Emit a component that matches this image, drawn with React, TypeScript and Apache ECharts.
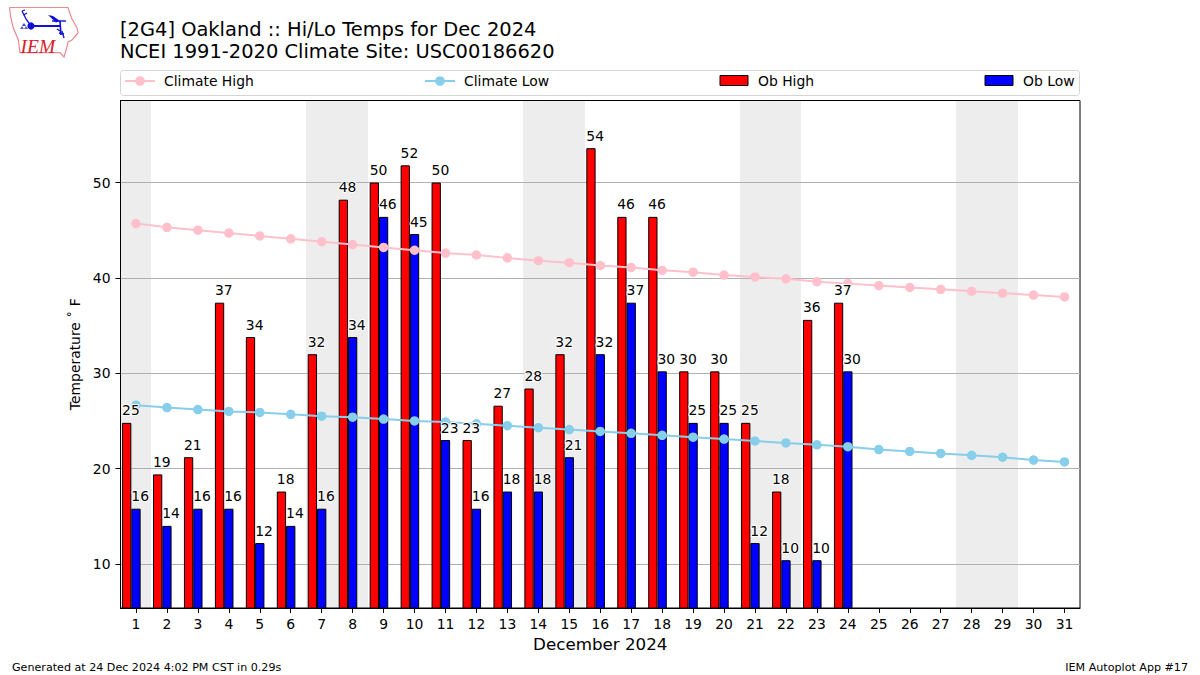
import React, { useEffect, useRef } from "react";
import * as echarts from "echarts";

const FONT = "'DejaVu Sans', sans-serif";

const days = ["1","2","3","4","5","6","7","8","9","10","11","12","13","14","15","16","17","18","19","20","21","22","23","24","25","26","27","28","29","30","31"];
const weekendDays = ["1","7","8","14","15","21","22","28","29"];
const climateHigh = [45.7,45.3,45.0,44.7,44.4,44.1,43.8,43.5,43.2,42.9,42.6,42.4,42.1,41.8,41.6,41.3,41.1,40.8,40.6,40.3,40.1,39.9,39.6,39.4,39.2,39.0,38.8,38.6,38.4,38.2,38.0];
const climateLow = [26.65,26.4,26.2,26.0,25.9,25.7,25.5,25.4,25.2,25.0,24.9,24.7,24.5,24.3,24.1,23.9,23.7,23.5,23.3,23.1,22.9,22.7,22.5,22.3,22.0,21.8,21.6,21.4,21.2,20.9,20.7];
const obHigh = [24.8,19.4,21.2,37.4,33.8,17.6,32,48.2,50,51.8,50,23,26.6,28.4,32,53.6,46.4,46.4,30.2,30.2,24.8,17.6,35.6,37.4];
const obLow = [15.8,14,15.8,15.8,12.2,14,15.8,33.8,46.4,44.6,23,15.8,17.6,17.6,21.2,32,37.4,30.2,24.8,24.8,12.2,10.4,10.4,30.2];
const yTicks = [10,20,30,40,50];
const yMin = 5.39;
const yMax = 58.6;

const titleText = "[2G4] Oakland :: Hi/Lo Temps for Dec 2024\nNCEI 1991-2020 Climate Site: USC00186620";
const xName = "December 2024";
const yName = "Temperature ˚ F";
const footerLeft = "Generated at 24 Dec 2024 4:02 PM CST in 0.29s";
const footerRight = "IEM Autoplot App #17";

const barFraction = 0.3;

function labelSeries(values: number[], leftOffsetFraction: number) {
  return {
    type: "custom",
    z: 5,
    silent: true,
    data: values.map((v, i) => [days[i], v]),
    encode: { x: 0, y: 1 },
    clip: false,
    renderItem: (_p: any, api: any) => {
      const v = api.value(1);
      const pt = api.coord([api.value(0), v]);
      const w = api.size([1, 0])[0];
      return {
        type: "text",
        x: pt[0] + leftOffsetFraction * w,
        y: pt[1] - 5.5,
        z2: 10,
        style: {
          text: String(Math.round(v)),
          fill: "#000",
          stroke: "#fff",
          lineWidth: 2,
          font: `13.9px ${FONT}`,
          align: "left",
          verticalAlign: "bottom",
        },
      };
    },
  };
}

function legendItem(name: string, left: number, bar: boolean) {
  return {
    data: [name],
    left: bar ? left + 0.5 : left,
    top: bar ? 73.5 : 74,
    padding: 0,
    itemWidth: bar ? 28 : 30,
    itemHeight: bar ? 10 : 12,
    ...(bar ? { icon: "rect", itemStyle: { borderWidth: 1, borderColor: "#000" } } : {}),
    selectedMode: false,
    z: 6,
    textStyle: { fontFamily: FONT, fontSize: 13.9, color: "#000", padding: [0, 0, 0, bar ? 5 : 4] },
  };
}

const logoBlue = "#1010d8";
const logoRed = "#d8202a";
const iowa = [[9.5,7.5],[68,7.5],[71.5,18],[77,28],[78,33],[72,40],[68,42],[66.7,48],[64,57],[60,52.7],[20,52.7],[18.3,40],[13,27],[10.7,17],[9.5,7.5]];

function blueLine(points: number[][], w = 1.2) {
  return { type: "polyline", shape: { points }, style: { stroke: logoBlue, lineWidth: w, fill: "none" } };
}

const logo: any[] = [
  { type: "polyline", shape: { points: iowa }, style: { stroke: "#e88a90", lineWidth: 1.2, fill: "none" } },
  blueLine([[31,26],[60,26]], 2),
  blueLine([[31,26],[26,19],[22,11]], 1.3),
  blueLine([[22,11],[25,10]], 1.3),
  blueLine([[23.5,15],[27,13]], 1.3),
  { type: "circle", shape: { cx: 31, cy: 26, r: 3.6 }, style: { fill: logoBlue } },
  { type: "polygon", shape: { points: [[48,15],[53,16],[60,21],[56,22.5]] }, style: { fill: logoBlue } },
  blueLine([[52,21],[66,21]], 1.4),
  blueLine([[60,21],[61,35]], 1.6),
  blueLine([[57,29],[60,31]], 1.3),
  blueLine([[59,33],[64,34]], 1.3),
  blueLine([[62,31],[64,38]], 1.3),
  { type: "polygon", shape: { points: [[24,23],[26,26],[22,26]] }, style: { fill: "#3a3ad8" } },
  { type: "polygon", shape: { points: [[22,26],[24,29],[20,29]] }, style: { fill: "#5a5ae0" } },
  { type: "polygon", shape: { points: [[26,26],[28,29],[24,29]] }, style: { fill: "#5a5ae0" } },
  {
    type: "text",
    x: 20.5,
    y: 36,
    style: { text: "IEM", fill: logoRed, font: "italic 19.5px 'Liberation Serif', serif" },
  },
];

export default function App() {
  const ref = useRef<HTMLDivElement>(null);
  useEffect(() => {
    if (!ref.current) return;
    const chart = echarts.init(ref.current, undefined, { renderer: "svg" });
    chart.setOption({
      animation: false,
      backgroundColor: "#fff",
      textStyle: { fontFamily: FONT },
      title: {
        text: titleText,
        left: 120,
        top: 18,
        padding: 0,
        textStyle: { fontFamily: FONT, fontSize: 19.44, fontWeight: "normal", color: "#000", lineHeight: 22 },
      },
      legend: [
        legendItem("Climate High", 124, false),
        legendItem("Climate Low", 424, false),
        legendItem("Ob High", 719, true),
        legendItem("Ob Low", 984, true),
      ],
      grid: {
        left: 120.5,
        top: 100.5,
        width: 959.5,
        height: 507.5,
        show: true,
        z: 1,
        borderColor: "#000",
        borderWidth: 1,
        backgroundColor: "transparent",
      },
      xAxis: {
        type: "category",
        data: days,
        z: 1,
        name: xName,
        nameLocation: "middle",
        nameGap: 27,
        nameTextStyle: { fontFamily: FONT, fontSize: 16.7, color: "#000" },
        axisLine: { show: true, lineStyle: { color: "#000", width: 1 } },
        axisTick: { show: true, alignWithLabel: true, length: 5, lineStyle: { color: "#000", width: 1 } },
        axisLabel: { interval: 0, color: "#000", fontFamily: FONT, fontSize: 13.9, margin: 9 },
        splitLine: { show: false },
      },
      yAxis: {
        type: "value",
        min: yMin,
        max: yMax,
        z: 1,
        name: yName,
        nameLocation: "middle",
        nameGap: 37,
        nameRotate: 90,
        nameTextStyle: { fontFamily: FONT, fontSize: 13.9, color: "#000" },
        axisLine: { show: true, lineStyle: { color: "#000", width: 1 } },
        axisTick: { show: true, length: 5, customValues: yTicks, lineStyle: { color: "#000", width: 1 } },
        axisLabel: { color: "#000", fontFamily: FONT, fontSize: 13.9, margin: 10, customValues: yTicks },
        splitLine: { show: true, lineStyle: { color: "#b0b0b0", width: 1 } },
      },
      series: [
        {
          type: "custom",
          z: 0,
          silent: true,
          data: weekendDays.map((d) => [d]),
          encode: { x: 0 },
          renderItem: (p: any, api: any) => {
            const cs = p.coordSys;
            const w = api.size([1, 0])[0];
            const cx = api.coord([api.value(0), yMin])[0];
            const x0 = Math.round(cx - w / 2);
            const x1 = Math.round(cx + w / 2);
            return {
              type: "rect",
              shape: { x: x0, y: cs.y, width: x1 - x0, height: cs.height },
              style: { fill: "#ededed" },
            };
          },
        },
        {
          name: "Ob High",
          type: "bar",
          z: 2,
          data: obHigh,
          barWidth: `${barFraction * 100}%`,
          barGap: 0,
          itemStyle: { color: "#ff0000", borderColor: "#000", borderWidth: 1 },
        },
        {
          name: "Ob Low",
          type: "bar",
          z: 2,
          data: obLow,
          barWidth: `${barFraction * 100}%`,
          barGap: 0,
          itemStyle: { color: "#0000ff", borderColor: "#000", borderWidth: 1 },
        },
        {
          // empty slot: keeps the low bar centred on its day, the high bar to its left
          name: "spacer",
          type: "bar",
          z: 2,
          data: [],
          barWidth: `${barFraction * 100}%`,
          barGap: 0,
        },
        {
          name: "Climate High",
          type: "line",
          z: 3,
          data: climateHigh,
          symbol: "circle",
          symbolSize: 9.5,
          showSymbol: true,
          lineStyle: { color: "#ffc0cb", width: 2 },
          itemStyle: { color: "#ffc0cb" },
        },
        {
          name: "Climate Low",
          type: "line",
          z: 3,
          data: climateLow,
          symbol: "circle",
          symbolSize: 9.5,
          showSymbol: true,
          lineStyle: { color: "#87ceeb", width: 2 },
          itemStyle: { color: "#87ceeb" },
        },
        labelSeries(obHigh, -1.5 * barFraction),
        labelSeries(obLow, -0.5 * barFraction),
      ],
      graphic: [
        {
          type: "rect",
          z: 0,
          shape: { x: 120.5, y: 70.5, width: 959, height: 25, r: 3 },
          style: { fill: "#fff", stroke: "#d4d4d4", lineWidth: 1 },
        },
        ...logo,
        {
          type: "text",
          x: 12,
          y: 662,
          style: { text: footerLeft, fill: "#000", font: `11.11px ${FONT}` },
        },
        {
          type: "text",
          x: 1188,
          y: 662,
          style: { text: footerRight, fill: "#000", font: `11.11px ${FONT}`, align: "right" },
        },
      ],
    });
    return () => chart.dispose();
  }, []);
  return <div ref={ref} style={{ position: "fixed", left: 0, top: 0, width: 1200, height: 675 }} />;
}
